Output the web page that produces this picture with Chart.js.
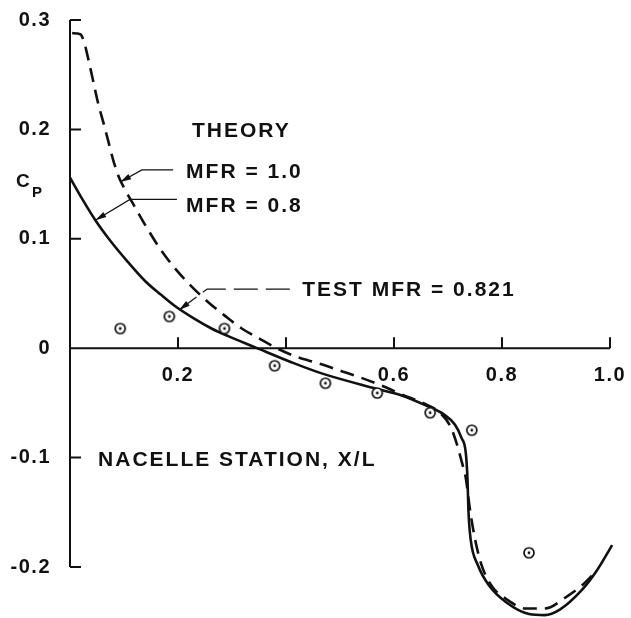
<!DOCTYPE html>
<html>
<head>
<meta charset="utf-8">
<script src="https://cdn.jsdelivr.net/npm/chart.js@4"></script>
<style>
  html, body { margin: 0; padding: 0; background: #fff; }
  canvas { display: block; }
</style>
</head>
<body>
<canvas id="cp" width="631" height="618"></canvas>
<script>
// test points, MFR = 0.821
const testX = [0.093, 0.184, 0.286, 0.379, 0.473, 0.569, 0.667, 0.744, 0.850, 0.948];
const testCp = [0.018, 0.029, 0.018, -0.016, -0.032, -0.041, -0.059, -0.075, -0.187, -0.218];

// theory, MFR = 0.8 (solid)
const mfr08X = [0.0, 0.022, 0.047, 0.075, 0.107, 0.140, 0.168, 0.193, 0.230, 0.262, 0.293, 0.342, 0.411, 0.466, 0.567, 0.613, 0.662, 0.691, 0.713, 0.725, 0.733, 0.736, 0.738, 0.742, 0.755, 0.776, 0.807, 0.850, 0.879, 0.907, 0.948, 0.976, 1.004];
const mfr08Cp = [0.156, 0.137, 0.117, 0.098, 0.079, 0.061, 0.049, 0.039, 0.027, 0.018, 0.011, 0.001, -0.013, -0.023, -0.037, -0.043, -0.053, -0.060, -0.070, -0.082, -0.096, -0.119, -0.150, -0.175, -0.198, -0.217, -0.232, -0.243, -0.244, -0.239, -0.221, -0.203, -0.180];

// theory, MFR = 1.0 (dashed)
const mfr10X = [0.004, 0.019, 0.026, 0.034, 0.043, 0.052, 0.062, 0.071, 0.080, 0.090, 0.103, 0.118, 0.140, 0.168, 0.196, 0.224, 0.256, 0.286, 0.318, 0.350, 0.383, 0.420, 0.461, 0.503, 0.539, 0.576, 0.613, 0.662, 0.685, 0.704, 0.716, 0.725, 0.733, 0.740, 0.749, 0.762, 0.782, 0.807, 0.845, 0.879, 0.920, 0.950, 0.972];
const mfr10Cp = [0.288, 0.287, 0.280, 0.264, 0.244, 0.224, 0.206, 0.189, 0.172, 0.157, 0.144, 0.131, 0.112, 0.090, 0.072, 0.057, 0.042, 0.030, 0.018, 0.009, 0.0, -0.008, -0.014, -0.021, -0.027, -0.034, -0.042, -0.052, -0.059, -0.071, -0.087, -0.103, -0.119, -0.145, -0.172, -0.198, -0.218, -0.229, -0.238, -0.238, -0.227, -0.216, -0.205];

// axis ticks
const yTicks = [0.3, 0.2, 0.1, 0, -0.1, -0.2];
const yTickLabels = ["0.3", "0.2", "0.1", "0", "-0.1", "-0.2"];
const xTicks = [0.2, 0.4, 0.6, 0.8, 1.0];
const xLabelVals = [0.2, 0.6, 0.8, 1.0];
const xTickLabels = ["0.2", "0.6", "0.8", "1.0"];

const toPts = (xs, ys) => xs.map((x, i) => ({ x, y: ys[i] }));

// circle with a dot in the middle
function makeMarker() {
  const c = document.createElement("canvas");
  c.width = 14;
  c.height = 14;
  const g = c.getContext("2d");
  g.fillStyle = "#fff";
  g.strokeStyle = "#111";
  g.lineWidth = 1.7;
  g.beginPath();
  g.arc(7, 7, 5, 0, Math.PI * 2);
  g.fill();
  g.stroke();
  g.fillStyle = "#111";
  g.beginPath();
  g.arc(7, 7, 1.4, 0, Math.PI * 2);
  g.fill();
  return c;
}

const FONT = "'Liberation Sans', Arial, Helvetica, sans-serif";

function arrowHead(ctx, x0, y0, x1, y1) {
  const a = Math.atan2(y1 - y0, x1 - x0);
  const len = 11, w = 3;
  ctx.beginPath();
  ctx.moveTo(x1, y1);
  ctx.lineTo(x1 - len * Math.cos(a) + w * Math.sin(a), y1 - len * Math.sin(a) - w * Math.cos(a));
  ctx.lineTo(x1 - len * Math.cos(a) - w * Math.sin(a), y1 - len * Math.sin(a) + w * Math.cos(a));
  ctx.closePath();
  ctx.fill();
}

const decor = {
  id: "decor",
  afterDatasetsDraw(chart) {
    const { ctx, scales } = chart;
    const X = (v) => scales.x.getPixelForValue(v);
    const Y = (v) => scales.y.getPixelForValue(v);
    ctx.save();
    ctx.strokeStyle = "#111";
    ctx.fillStyle = "#111";

    // axes
    ctx.lineWidth = 2;
    ctx.beginPath();
    ctx.moveTo(X(0), Y(0.3));
    ctx.lineTo(X(0), Y(-0.2));
    ctx.moveTo(X(0), Y(0));
    ctx.lineTo(X(1.0), Y(0));
    yTicks.forEach((v) => {
      ctx.moveTo(X(0), Y(v));
      ctx.lineTo(X(0) + 11, Y(v));
    });
    xTicks.forEach((v) => {
      ctx.moveTo(X(v), Y(0));
      ctx.lineTo(X(v), Y(0) - 11);
    });
    ctx.stroke();

    // tick labels
    ctx.font = "bold 20px " + FONT;
    ctx.letterSpacing = "1.5px";
    ctx.textBaseline = "middle";
    ctx.textAlign = "right";
    yTicks.forEach((v, i) => ctx.fillText(yTickLabels[i], X(0) - 19, Y(v)));
    ctx.textAlign = "center";
    xLabelVals.forEach((v, i) => ctx.fillText(xTickLabels[i], X(v), Y(0) + 27));

    // C sub P
    ctx.textAlign = "left";
    ctx.textBaseline = "alphabetic";
    ctx.letterSpacing = "0px";
    ctx.font = "bold 19px " + FONT;
    ctx.fillText("C", 16, 187);
    ctx.font = "bold 15px " + FONT;
    ctx.fillText("P", 32, 197);

    // annotations
    ctx.font = "bold 21px " + FONT;
    ctx.letterSpacing = "2px";
    ctx.textBaseline = "middle";
    ctx.fillText("THEORY", X(0.226), Y(0.198));
    ctx.fillText("MFR = 1.0", X(0.215), Y(0.161));
    ctx.fillText("MFR = 0.8", X(0.215), Y(0.130));
    ctx.fillText("TEST MFR = 0.821", X(0.430), Y(0.053));
    ctx.fillText("NACELLE STATION, X/L", X(0.052), Y(-0.102));

    // leader lines
    ctx.lineWidth = 1.2;
    const leaders = [
      { pts: [[0.191, 0.163], [0.133, 0.163], [0.093, 0.152]], dash: [] },
      { pts: [[0.198, 0.136], [0.111, 0.136], [0.047, 0.117]], dash: [] },
      { pts: [[0.407, 0.054], [0.254, 0.054], [0.202, 0.035]], dash: [24, 8] },
    ];
    leaders.forEach((l) => {
      const p = l.pts.map(([a, b]) => [X(a), Y(b)]);
      ctx.setLineDash(l.dash);
      ctx.beginPath();
      ctx.moveTo(p[0][0], p[0][1]);
      p.slice(1).forEach(([a, b]) => ctx.lineTo(a, b));
      ctx.stroke();
      ctx.setLineDash([]);
      const n = p.length;
      arrowHead(ctx, p[n - 2][0], p[n - 2][1], p[n - 1][0], p[n - 1][1]);
    });
    ctx.restore();
  },
};

new Chart(document.getElementById("cp"), {
  type: "scatter",
  data: {
    datasets: [
      {
        label: "TEST MFR = 0.821",
        data: toPts(testX, testCp),
        pointStyle: makeMarker(),
        showLine: false,
      },
      {
        label: "MFR = 0.8",
        data: toPts(mfr08X, mfr08Cp),
        showLine: true,
        borderColor: "#111",
        borderWidth: 2.6,
        pointRadius: 0,
        cubicInterpolationMode: "monotone",
        clip: false,
      },
      {
        label: "MFR = 1.0",
        data: toPts(mfr10X, mfr10Cp),
        showLine: true,
        borderColor: "#111",
        borderWidth: 2.6,
        borderDash: [14, 8],
        pointRadius: 0,
        cubicInterpolationMode: "monotone",
        clip: false,
      },
    ],
  },
  options: {
    responsive: false,
    animation: false,
    layout: { padding: { left: 70, right: 21, top: 20, bottom: 51 } },
    scales: {
      x: { type: "linear", min: 0, max: 1.0, display: false },
      y: { type: "linear", min: -0.2, max: 0.3, display: false },
    },
    plugins: {
      legend: { display: false },
      tooltip: { enabled: false },
    },
  },
  plugins: [decor],
});
</script>
</body>
</html>
